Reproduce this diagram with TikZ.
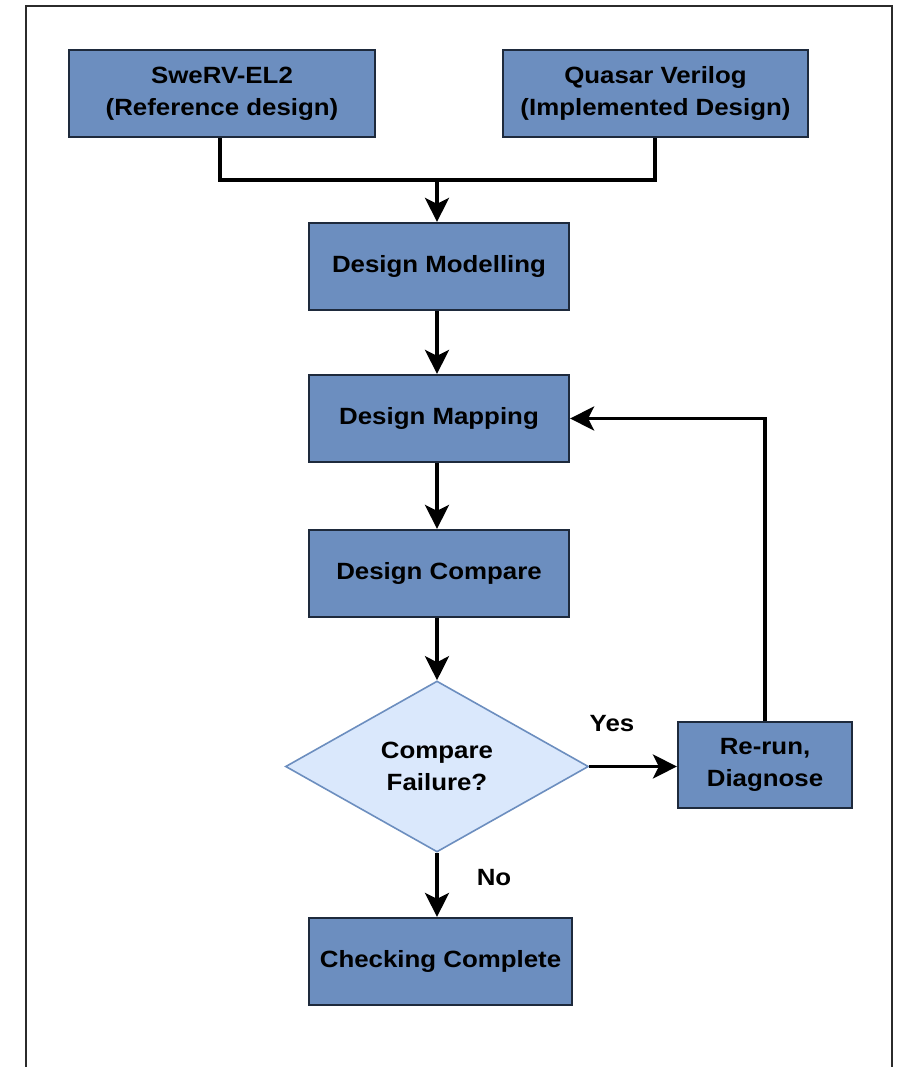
\documentclass[tikz,border=0pt]{standalone}
\usepackage{fontspec}
\setmainfont{Liberation Sans}[FakeStretch=1.1]
\usetikzlibrary{shapes.geometric,arrows.meta}
\definecolor{boxfill}{HTML}{6C8EBF}
\definecolor{boxline}{HTML}{1E2A3C}
\definecolor{diafill}{HTML}{DAE8FC}
\definecolor{dialine}{HTML}{6C8EBF}
\definecolor{framecol}{HTML}{2B2B2B}
\tikzset{
  procbox/.style={draw=boxline, line width=2.2pt, fill=boxfill, minimum width=260pt, minimum height=87pt,
    inner sep=0pt, align=center, font=\fontsize{23.5}{32}\selectfont\bfseries},
  decision/.style={diamond, aspect=1.77, draw=dialine, line width=1.6pt, fill=diafill, minimum width=303pt,
    minimum height=171pt, inner sep=0pt, align=center, font=\fontsize{23.5}{32}\selectfont\bfseries},
  conn/.style={line width=3.6pt, draw=black},
  arr/.style={conn, -{Stealth[length=24pt,width=24pt,inset=6pt]}},
  lbl/.style={font=\fontsize{23.5}{28}\selectfont\bfseries, inner sep=0pt}
}
\begin{document}
\begin{tikzpicture}[x=1pt,y=-1pt]
\useasboundingbox (0,0) rectangle (902,1067);
\fill[white] (0,0) rectangle (902,1067);
\draw[framecol, line width=1.8pt] (26,6) rectangle (892,1090);

\node[procbox, minimum width=306pt] (swerv) at (222,93.5) {SweRV-EL2\\(Reference design)};
\node[procbox, minimum width=305pt] (quasar) at (655.5,93.5) {Quasar Verilog\\(Implemented Design)};
\node[procbox] (model) at (439,266.5) {Design Modelling};
\node[procbox] (map) at (439,418.5) {Design Mapping};
\node[procbox] (cmp) at (439,573.5) {Design Compare};
\node[decision] (fail) at (437,766.5) {Compare\\Failure?};
\node[procbox, minimum width=174pt, minimum height=86pt] (rerun) at (765,765) {Re-run,\\Diagnose};
\node[procbox, minimum width=263pt] (done) at (440.5,961.5) {Checking Complete};

\coordinate (join) at (437,180);
\draw[conn] (swerv.south -| 220,0) |- (join);
\draw[conn] (quasar.south -| 655,0) |- (join);
\draw[arr] (join) -- (join |- model.north);
\draw[arr] (model.south -| 437,0) -- (map.north -| 437,0);
\draw[arr] (map.south -| 437,0) -- (cmp.north -| 437,0);
\draw[arr] (cmp.south -| 437,0) -- (fail.north);
\draw[arr] (fail.east) -- (fail.east -| rerun.west);
\draw[arr] (rerun.north) |- (map.east);
\draw[arr] (fail.south) -- (fail.south |- done.north);

\node[lbl] (yes) at (612,724) {Yes};
\node[lbl] (no) at (494,878) {No};
\end{tikzpicture}
\end{document}
